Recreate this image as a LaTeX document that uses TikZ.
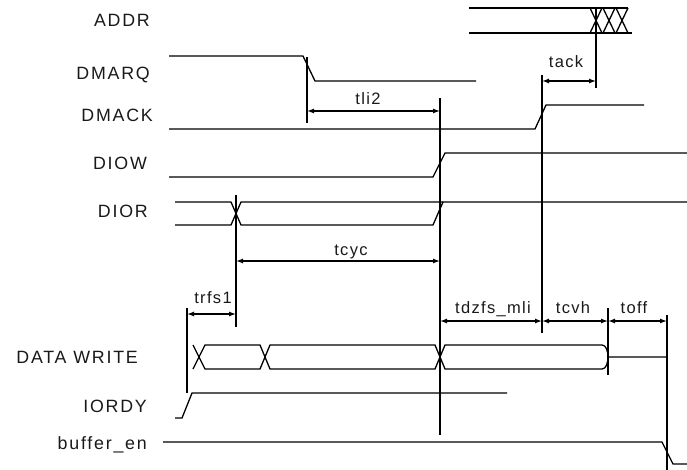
\documentclass[tikz,border=0pt]{standalone}
\usepackage{fontspec}
\setmainfont{Liberation Sans}
\newfontfamily\tdfont[LetterSpace=8]{Liberation Sans}
\newfontfamily\sigfont[LetterSpace=10]{Liberation Sans}
\usetikzlibrary{arrows.meta}

\begin{document}
\begin{tikzpicture}[
  x=1pt, y=-1pt,
  wave/.style={line width=1.3pt, line join=miter},
  marker/.style={line width=1.3pt},
  dimline/.style={line width=1.3pt, {Latex[length=7pt,width=5pt]}-{Latex[length=7pt,width=5pt]}},
  signame/.style={anchor=base east, inner sep=0pt, text=black!90,
    font=\sigfont\fontsize{17.8}{19}\selectfont},
  timelabel/.style={anchor=base, inner sep=0pt, text=black!90,
    font=\tdfont\fontsize{16.5}{18}\selectfont},
]
\useasboundingbox (0,0) rectangle (687,470);

% signal names
\node[signame] (addr)  at (150,27)  {ADDR};
\node[signame] (dmarq) at (150,80)  {DMARQ};
\node[signame] (dmack) at (153,122) {DMACK};
\node[signame] (diow)  at (147,170) {DIOW};
\node[signame] (dior)  at (148,218) {DIOR};
\node[signame] (dwr)   at (138,363) {DATA WRITE};
\node[signame] (iordy) at (147,412) {IORDY};
\node[signame] (bufen) at (147,449) {buffer\_en};

% waveforms
\draw[wave] (469,8) -- (628,8);
\draw[wave] (469,33) -- (632,33);
\foreach \x in {590,603,616}
  \draw[wave] (\x,8) -- (\x+12,33) (\x,33) -- (\x+12,8);

\draw[wave] (169,56) -- (303,56) -- (315,81) -- (476,81);
\draw[wave] (169,129) -- (535,129) -- (546,105) -- (644,105);
\draw[wave] (169,177) -- (433,177) -- (445,153) -- (687,153);

\draw[wave] (175,202) -- (231,202) -- (241,225) -- (433,225) -- (443,202) -- (687,202);
\draw[wave] (175,225) -- (231,225) -- (241,202) -- (443,202);

\draw[wave] (193,345) -- (205,369) -- (260,369) -- (270,345) -- (435,345) -- (445,369)
  -- (602,369) .. controls (606,369) and (608,363) .. (608,357);
\draw[wave] (193,369) -- (205,345) -- (260,345) -- (270,369) -- (435,369) -- (445,345)
  -- (602,345) .. controls (606,345) and (608,351) .. (608,357) -- (667,357);

\draw[wave] (175,418) -- (182,418) -- (192,393) -- (507,393);
\draw[wave] (163,442) -- (662,442) -- (673,464) -- (687,464);

% timing markers
\coordinate (mA) at (596,8);   \coordinate (mAb) at (596,88);
\coordinate (mB) at (307,57);  \coordinate (mBb) at (307,123);
\coordinate (mC) at (440,98);  \coordinate (mCb) at (440,435);
\coordinate (mD) at (542,75);  \coordinate (mDb) at (542,333);
\coordinate (mE) at (236,195); \coordinate (mEb) at (236,327);
\coordinate (mF) at (187,308); \coordinate (mFb) at (187,393);
\coordinate (mG) at (608,308); \coordinate (mGb) at (608,375);
\coordinate (mH) at (667,315); \coordinate (mHb) at (667,470);
\foreach \m in {A,B,C,D,E,F,G,H}
  \draw[marker] (m\m) -- (m\m b);

% timing intervals
\draw[dimline] (542,81) -- (596,81);
\node[timelabel] (tack) at (566,68) {tack};
\draw[dimline] (307,111) -- (440,111);
\node[timelabel] (tli2) at (368,105) {tli2};
\draw[dimline] (236,261) -- (440,261);
\node[timelabel] (tcyc) at (351,255) {tcyc};
\draw[dimline] (187,314) -- (236,314);
\node[timelabel] (trfs) at (213,303) {trfs1};
\draw[dimline] (440,321) -- (542,321);
\node[timelabel] (tdzfs) at (493,313) {tdzfs\_mli};
\draw[dimline] (542,321) -- (608,321);
\node[timelabel] (tcvh) at (573,313) {tcvh};
\draw[dimline] (608,321) -- (667,321);
\node[timelabel] (toff) at (634,313) {toff};

\end{tikzpicture}
\end{document}
